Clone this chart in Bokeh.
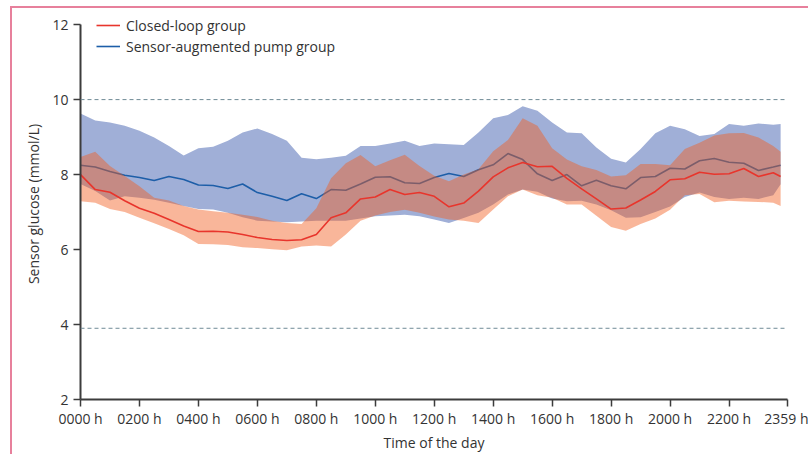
from bokeh.plotting import figure
from bokeh.models import Span, FixedTicker, Legend, LegendItem, Range1d
from bokeh.embed import file_html
from bokeh.resources import INLINE

# time of day in minutes (30-min grid, last sample 2345 h)
minutes = [i * 30 for i in range(48)] + [1425]

closed_median = [8.00, 7.60, 7.53, 7.30, 7.10, 6.97, 6.80, 6.63, 6.48, 6.49, 6.47, 6.40,
                 6.32, 6.27, 6.24, 6.26, 6.40, 6.85, 6.98, 7.35, 7.40, 7.60, 7.47, 7.52,
                 7.42, 7.14, 7.24, 7.56, 7.94, 8.18, 8.32, 8.21, 8.22, 7.90, 7.62, 7.35,
                 7.08, 7.11, 7.32, 7.55, 7.86, 7.89, 8.06, 8.01, 8.02, 8.16, 7.95, 8.05, 7.95]
closed_upper = [8.47, 8.61, 8.23, 7.96, 7.69, 7.38, 7.31, 7.16, 7.07, 7.02, 6.98, 6.93,
                6.87, 6.77, 6.71, 6.68, 7.10, 7.90, 8.30, 8.52, 8.22, 8.38, 8.53, 8.23,
                7.97, 7.82, 8.00, 8.14, 8.62, 8.92, 9.50, 9.30, 8.70, 8.40, 8.22, 8.12,
                7.95, 7.98, 8.28, 8.28, 8.25, 8.68, 8.85, 9.04, 9.10, 9.11, 8.99, 8.76, 8.61]
closed_lower = [7.29, 7.25, 7.08, 7.00, 6.85, 6.70, 6.55, 6.38, 6.15, 6.14, 6.12, 6.06,
                6.04, 6.01, 5.98, 6.08, 6.11, 6.08, 6.40, 6.77, 6.91, 7.00, 7.06, 6.98,
                6.88, 6.80, 6.77, 6.71, 7.07, 7.42, 7.60, 7.45, 7.38, 7.20, 7.20, 6.90,
                6.60, 6.50, 6.68, 6.83, 7.06, 7.45, 7.48, 7.26, 7.30, 7.28, 7.27, 7.25, 7.16]

sap_median = [8.25, 8.20, 8.08, 7.98, 7.92, 7.84, 7.95, 7.87, 7.72, 7.71, 7.63, 7.75,
              7.52, 7.42, 7.31, 7.49, 7.36, 7.60, 7.58, 7.75, 7.93, 7.94, 7.78, 7.76,
              7.92, 8.03, 7.95, 8.13, 8.26, 8.56, 8.40, 8.02, 7.84, 8.00, 7.70, 7.85,
              7.70, 7.62, 7.92, 7.95, 8.17, 8.15, 8.37, 8.43, 8.33, 8.30, 8.11, 8.20, 8.25]
sap_upper = [9.63, 9.44, 9.39, 9.30, 9.17, 8.99, 8.76, 8.51, 8.70, 8.74, 8.90, 9.12,
             9.23, 9.08, 8.90, 8.45, 8.41, 8.45, 8.50, 8.76, 8.76, 8.83, 8.90, 8.76,
             8.83, 8.81, 8.79, 9.12, 9.50, 9.59, 9.82, 9.70, 9.39, 9.12, 9.10, 8.72,
             8.42, 8.32, 8.68, 9.10, 9.30, 9.21, 9.03, 9.08, 9.35, 9.30, 9.36, 9.33, 9.35]
sap_lower = [7.75, 7.56, 7.31, 7.42, 7.38, 7.33, 7.25, 7.16, 7.08, 7.07, 6.98, 6.86,
             6.77, 6.75, 6.73, 6.75, 6.77, 6.77, 6.77, 6.83, 6.89, 6.91, 6.93, 6.89,
             6.80, 6.71, 6.84, 6.98, 7.20, 7.47, 7.60, 7.54, 7.36, 7.29, 7.30, 7.20,
             7.05, 6.85, 6.86, 7.00, 7.15, 7.40, 7.52, 7.40, 7.35, 7.38, 7.35, 7.45, 7.74]

x_ticks = [0, 120, 240, 360, 480, 600, 720, 840, 960, 1080, 1200, 1320, 1439]
x_tick_labels = ["0000 h", "0200 h", "0400 h", "0600 h", "0800 h", "1000 h", "1200 h",
                 "1400 h", "1600 h", "1800 h", "2000 h", "2200 h", "2359 h"]
y_ticks = [2, 4, 6, 8, 10, 12]
reference_levels = [10, 3.9]

FONT = "Open Sans"
AXIS = "#3c3c3c"
TXT = "#333333"

p = figure(width=798, height=448, output_backend="svg", toolbar_location=None,
           x_range=Range1d(0, 1439), y_range=Range1d(2, 12.43),
           min_border_left=68, min_border_right=23, min_border_top=0, min_border_bottom=57)
p.styles = {"border-left": "2px solid #e7809c", "border-top": "2px solid #e7809c",
            "margin-left": "10px", "margin-top": "6px"}
p.outline_line_color = None
p.grid.visible = False
p.background_fill_color = "white"
p.border_fill_color = "white"

for lvl in reference_levels:
    p.add_layout(Span(location=lvl, dimension="width", line_color="#6f8a96",
                      line_width=1, line_dash="4 3"))

p.varea(x=minutes, y1=sap_lower, y2=sap_upper, fill_color="#a0afd7", fill_alpha=1.0)
sap_line = p.line(minutes, sap_median, line_color="#1d5ea8", line_width=1.6)
p.varea(x=minutes, y1=closed_lower, y2=closed_upper, fill_color=(241, 93, 30), fill_alpha=0.45)
cl_line = p.line(minutes, closed_median, line_color="#e8352c", line_width=1.6)

legend = Legend(items=[LegendItem(label="Closed-loop group", renderers=[cl_line]),
                       LegendItem(label="Sensor-augmented pump group", renderers=[sap_line])],
                location=(16, 343), orientation="vertical")
legend.border_line_color = None
legend.background_fill_alpha = 0
legend.padding = 0
legend.margin = 0
legend.spacing = 1
legend.glyph_width = 24
legend.glyph_height = 20
legend.label_height = 20
legend.label_standoff = 6
legend.label_text_font = FONT
legend.label_text_font_size = "14px"
legend.label_text_color = TXT
p.add_layout(legend)

p.xaxis.ticker = FixedTicker(ticks=x_ticks)
p.xaxis.major_label_overrides = dict(zip(x_ticks, x_tick_labels))
p.yaxis.ticker = FixedTicker(ticks=y_ticks)
p.yaxis.bounds = (2, 12)
p.xaxis.axis_label = "Time of the day"
p.yaxis.axis_label = "Sensor glucose (mmol/L)"

for ax in (p.xaxis[0], p.yaxis[0]):
    ax.axis_line_color = AXIS
    ax.axis_line_width = 2
    ax.major_tick_line_color = AXIS
    ax.major_tick_line_width = 1.5
    ax.major_tick_out = 7
    ax.major_tick_in = 0
    ax.minor_tick_line_color = None
    ax.major_label_text_font = FONT
    ax.major_label_text_font_size = "14px"
    ax.major_label_text_color = TXT
    ax.major_label_standoff = 5
    ax.axis_label_text_font = FONT
    ax.axis_label_text_font_size = "14px"
    ax.axis_label_text_font_style = "normal"
    ax.axis_label_text_color = TXT
p.xaxis.major_label_standoff = 2
p.yaxis.axis_label_standoff = 6
p.xaxis.axis_label_standoff = 2

open("out.html", "w").write(file_html(p, INLINE))
